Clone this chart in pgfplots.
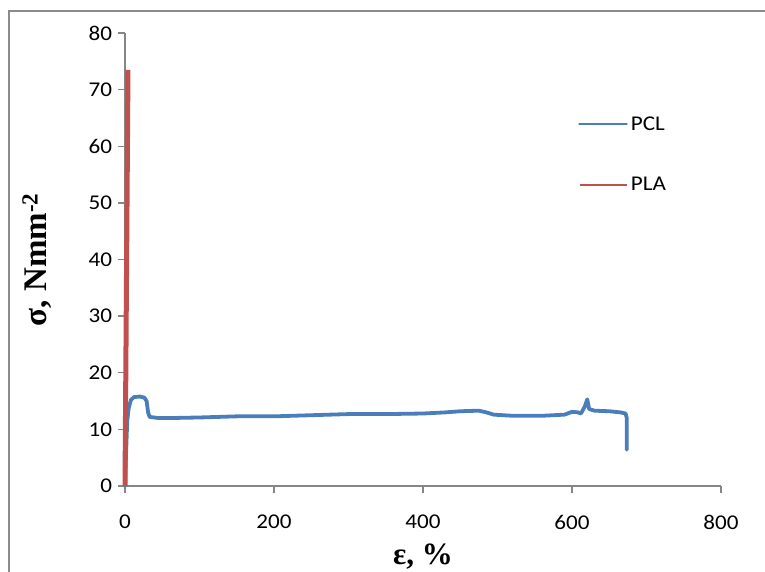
\documentclass[border=0pt]{standalone}
\usepackage{fontspec}
\setmainfont{Carlito}[FakeStretch=1.1]
\newfontfamily\serifb{Liberation Serif}[BoldFont={Liberation Serif Bold}]
\usepackage{pgfplots}
\pgfplotsset{compat=1.18}
\definecolor{pclblue}{RGB}{74,126,187}
\definecolor{plared}{RGB}{192,80,77}
\definecolor{axgray}{RGB}{134,134,134}
\definecolor{framegray}{RGB}{140,140,140}
\begin{document}
\begin{tikzpicture}[x=1pt,y=1pt]
\useasboundingbox (0,0) rectangle (765,572);
\draw[framegray, line width=1.5pt] (9,-2) -- (9,561) -- (767,561);
\begin{axis}[
  at={(125pt,86pt)}, anchor=south west,
  scale only axis, width=596pt, height=453pt,
  xmin=0, xmax=800, ymin=0, ymax=80,
  axis x line=bottom, axis y line=left,
  axis line style={-, axgray, line width=1.3pt},
  tick style={axgray, line width=1.3pt},
  tick align=outside, major tick length=7.5pt,
  xtick={0,200,...,800}, ytick={0,10,...,80},
  /pgf/number format/assume math mode=true,
  ticklabel style={font=\fontsize{21}{25}\selectfont, text=black},
  xticklabel shift=18pt,
  yticklabel style={anchor=east, xshift=-2pt},
  clip=false,
  xlabel={\serifb\bfseries\fontsize{31}{36}\selectfont ε, \%},
  ylabel={\serifb\bfseries\fontsize{33}{38}\selectfont σ, Nmm\textsuperscript{-2}},
  xlabel style={at={(axis description cs:0.5,-0.155)}, anchor=center},
  ylabel style={at={(axis description cs:-0.1477,0.5)}, anchor=center},
  legend style={draw=none, fill=none, at={(rel axis cs:0.76,0.823)}, anchor=north west,
    font=\fontsize{21}{25}\selectfont, row sep=40pt, inner sep=0pt,
    nodes={inner sep=3pt}},
  legend cell align=left,
  legend image code/.code={\draw[#1, line width=2.8pt] (0pt,0pt) -- (47pt,0pt);},
]
\addplot[pclblue, line width=3.8pt, line join=round, line cap=round] coordinates {
(0,0) (1.5,6) (3,11.5) (5,13.8) (8,15.2) (12,15.7) (20,15.8) (26,15.6) (29,15) (31,13) (33,12.2)
(45,12.0) (60,12.0) (100,12.1) (150,12.3) (200,12.3) (250,12.5) (300,12.7) (350,12.7)
(400,12.8) (430,13.0) (450,13.2) (475,13.3) (485,13.0) (495,12.6) (520,12.4) (560,12.4)
(590,12.6) (600,13.1) (608,13.0) (612,12.8) (617,14.0) (620.5,15.3) (623,13.6) (630,13.3)
(650,13.2) (665,13.0) (672,12.8) (673.5,12.0) (673.5,6.4)
};
\addlegendentry{PCL}
\addplot[plared, line width=5pt] coordinates {
(0,0) (4,73.5)
};
\addlegendentry{PLA}
\end{axis}
\end{tikzpicture}
\end{document}
